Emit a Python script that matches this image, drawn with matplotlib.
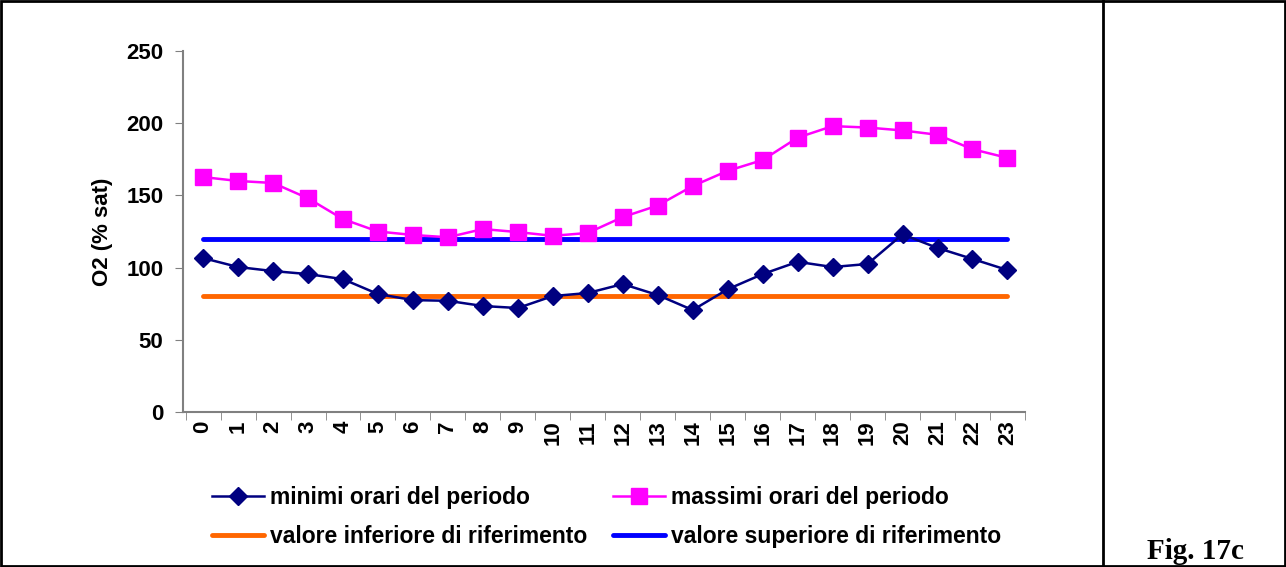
import numpy as np
import matplotlib.pyplot as plt

plt.rcParams['font.family'] = ['Liberation Sans', 'DejaVu Sans']

hours = list(range(24))
minimi = [106.6, 100.4, 97.6, 95.5, 92.0, 81.7, 77.5, 77.0, 73.4, 72.0, 80.3, 82.4,
          88.6, 81.0, 70.6, 85.0, 95.5, 104.0, 100.4, 102.5, 123.0, 113.6, 106.0, 98.3]
massimi = [162.7, 160.0, 158.6, 148.0, 133.6, 125.0, 122.6, 121.0, 126.7, 124.6, 122.0, 124.0,
           135.0, 143.0, 156.5, 167.0, 174.5, 190.0, 198.0, 197.0, 195.0, 192.0, 182.0, 176.0]
rif_inf = [80] * 24
rif_sup = [120] * 24

fs = 16

fig = plt.figure(figsize=(12.86, 5.67), dpi=100)
ax = fig.add_axes([0.1423, 0.2734, 0.6547, 0.6366])

# serie
l_min, = ax.plot(hours, minimi, color='#000080', lw=1.8, marker='D', ms=9,
                 label='minimi orari del periodo', zorder=4)
l_max, = ax.plot(hours, massimi, color='#FF00FF', lw=1.8, marker='s', ms=11,
                 label='massimi orari del periodo', zorder=4)
l_inf, = ax.plot(hours, rif_inf, color='#FF6600', lw=3.5, solid_capstyle='round',
                 label='valore inferiore di riferimento', zorder=3)
l_sup, = ax.plot(hours, rif_sup, color='#0000FF', lw=3.5, solid_capstyle='round',
                 label='valore superiore di riferimento', zorder=3)

ax.set_xlim(-0.575, 23.425)
ax.set_ylim(0, 250)
ax.set_yticks([0, 50, 100, 150, 200, 250])
ax.set_xticks(hours)
ax.set_xticklabels([str(h) for h in hours], rotation=90, fontweight='bold', fontsize=fs)
ax.set_xticks(np.arange(-0.5, 24, 1), minor=True)
ax.tick_params(axis='x', which='major', length=0, pad=6)
ax.tick_params(axis='x', which='minor', length=6, color='#808080', direction='out')
ax.tick_params(axis='y', length=6, color='#808080', direction='out', labelsize=fs, pad=8)
for t in ax.get_yticklabels():
    t.set_fontweight('bold')

for s in ['top', 'right']:
    ax.spines[s].set_visible(False)
for s in ['left', 'bottom']:
    ax.spines[s].set_color('#808080')
    ax.spines[s].set_linewidth(1.5)

ax.set_ylabel('O2 (% sat)', fontsize=fs, fontweight='bold', labelpad=10)

handles = [l_min, l_inf, l_max, l_sup]
fig.legend(handles=handles, labels=[h.get_label() for h in handles],
           loc='upper left', bbox_to_anchor=(0.1649, 0.143), ncol=2,
           frameon=False, prop={'size': 16.5, 'weight': 'bold'},
           handlelength=2.25, handletextpad=0.3, columnspacing=1.1,
           labelspacing=0.72, borderaxespad=0, borderpad=0)

# cornice e divisione
fig.add_artist(plt.Rectangle((0.001, 0.002), 0.998, 0.996, transform=fig.transFigure,
                             fill=False, ec='black', lw=2))
fig.add_artist(plt.Line2D([1103 / 1286, 1103 / 1286], [0, 1], transform=fig.transFigure,
                          color='black', lw=2))
fig.text(1195 / 1286, 0.014, 'Fig. 17c', family='Liberation Serif', fontweight='bold',
         fontsize=21, ha='center', va='baseline')

fig.savefig('out.png', dpi=100)
